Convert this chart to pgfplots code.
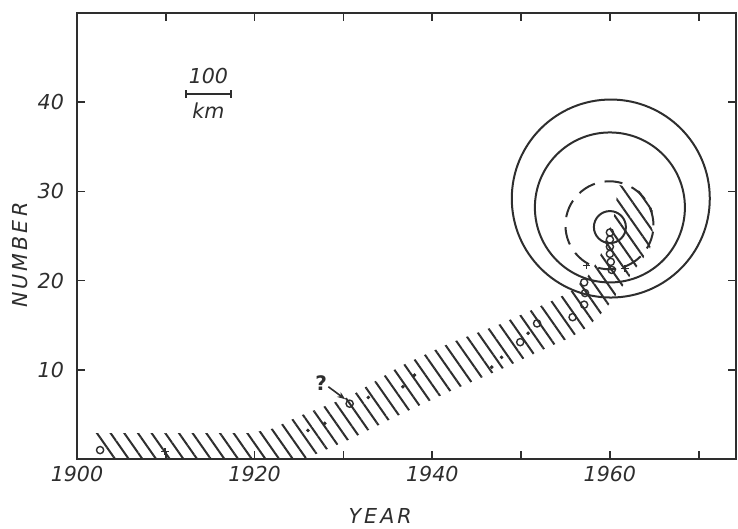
\documentclass[border=0pt]{standalone}
\usepackage{fontspec}
\setmainfont{DejaVu Sans}
\usepackage{pgfplots}
\pgfplotsset{compat=1.18}
\usetikzlibrary{patterns.meta,arrows.meta}
\definecolor{ink}{gray}{0.18}
\newcommand{\lblfont}{\fontsize{10.3}{12}\selectfont\itshape}
\begin{document}
\begin{tikzpicture}
\begin{axis}[
  at={(0,0)}, anchor=south west,
  scale only axis, width=329.5pt, height=223pt,
  xmin=1900, xmax=1974.2, ymin=0, ymax=50,
  axis line style={ink, line width=1pt},
  xtick={1900,1910,...,1970},
  xticklabels={1900,,1920,,1940,,1960,},
  ytick={10,20,30,40},
  tick align=inside, major tick length=4pt,
  tick style={ink, line width=0.8pt},
  ticklabel style={font=\lblfont, text=ink},
  yticklabel style={xshift=-3pt},
  /pgf/number format/assume math mode=true,
  xlabel={YEAR}, ylabel={NUMBER},
  label style={font=\lblfont\addfontfeature{LetterSpace=15}, text=ink},
  xlabel style={at={(axis description cs:0.46,-0.127)}, anchor=center},
  ylabel style={at={(axis description cs:-0.0865,0.457)}, anchor=center},
]
% hatched band
\addplot[draw=none, pattern={Lines[angle=-55,distance=5.6pt,line width=1pt]}, pattern color=ink]
coordinates {
(1901.8,2.9) (1919.5,2.9) (1922,3.4) (1925,4.8) (1930.7,7.0) (1936.4,10.4) (1942,13.0)
(1947.6,15.1) (1953.2,17.6) (1955.5,18.7) (1957.5,20.5) (1958.8,22.5) (1959.8,25.3)
(1960.7,28.0) (1960.8,30.8) (1963.5,30.0) (1964.8,28.0) (1964.8,25.0) (1964.5,23.5)
(1962.6,21.0) (1961,18.8) (1959.5,16.8) (1957.5,14.8) (1955.5,13.6) (1953.2,12.6) (1947.6,10.0)
(1942,7.6) (1936.4,5.0) (1930.7,2.2) (1927,0.6) (1925.5,0) (1903.8,0)
} -- cycle;
% concentric circles
\addplot[only marks, mark=o, mark size=49.5pt, mark options={line width=1pt, draw=ink}] coordinates {(1960.1,29.2)};
\addplot[only marks, mark=o, mark size=37.5pt, mark options={line width=1pt, draw=ink}] coordinates {(1960.0,28.2)};
\addplot[only marks, mark=o, mark size=22pt, mark options={line width=1pt, draw=ink, dash pattern=on 9pt off 5pt}] coordinates {(1959.95,26.2)};
\addplot[only marks, mark=o, mark size=8pt, mark options={line width=1pt, draw=ink}] coordinates {(1960.0,26.0)};
% open circles
\addplot[only marks, mark=o, mark size=1.8pt, mark options={line width=0.7pt, draw=ink, fill=white}] coordinates {
(1902.6,1.0) (1930.7,6.2) (1949.9,13.1) (1951.8,15.2) (1955.8,15.9) (1957.1,17.3) (1957.2,18.6) (1957.1,19.8)
(1960,25.4) (1960,24.6) (1960,23.8) (1960,23.0) (1960.1,22.1) (1960.2,21.2)};
% dots
\addplot[only marks, mark=*, mark size=0.7pt, ink] coordinates {
(1926,3.2) (1927.9,4.0) (1932.8,6.9) (1936.7,8.1) (1938,9.4) (1946.7,10.3) (1947.8,11.4) (1950.8,14.1)};
% small crosses
\addplot[only marks, mark=+, mark size=1.8pt, mark options={line width=0.6pt, draw=ink}] coordinates {
(1961.7,21.4) (1957.4,21.7) (1909.9,0.8)};
% question mark and arrow
\node[font=\fontsize{10}{12}\selectfont\bfseries, text=ink] at (axis cs:1927.5,8.5) {?};
\draw[ink, line width=0.8pt, -{Stealth[length=4pt]}] (axis cs:1928.3,8.1) -- (axis cs:1930.2,6.7);
% scale bar
\draw[ink, line width=1pt, {Bar[width=4pt]}-{Bar[width=4pt]}] (axis cs:1912.2,40.9) -- (axis cs:1917.4,40.9);
\node[font=\lblfont, text=ink] at (axis cs:1914.8,42.9) {100};
\node[font=\lblfont, text=ink] at (axis cs:1914.8,39.1) {km};
\end{axis}
\pgfresetboundingbox
\path[use as bounding box] (-38.5pt,-35pt) rectangle (330.5pt,229.5pt);
\end{tikzpicture}
\end{document}
